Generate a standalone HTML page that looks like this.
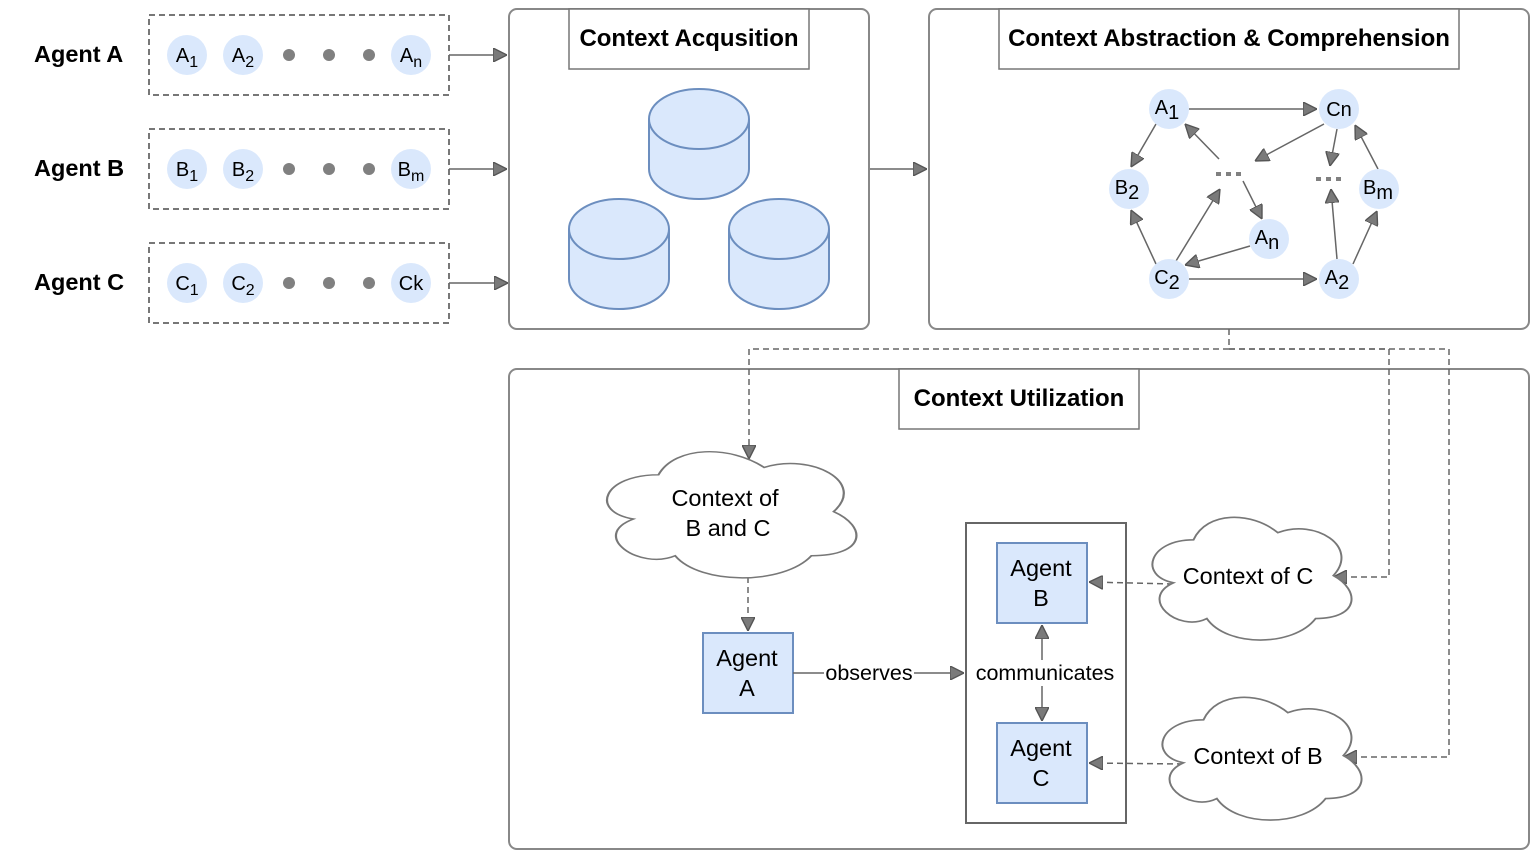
<!DOCTYPE html>
<html><head><meta charset="utf-8"><style>body{margin:0;background:#fff}svg{display:block;font-family:"Liberation Sans",Arial,sans-serif}</style></head>
<body>
<svg width="1538" height="860" viewBox="0 0 1538 860" xmlns="http://www.w3.org/2000/svg">
<defs>
<marker id="ar" viewBox="0 0 10 10" refX="10" refY="5" markerWidth="14" markerHeight="14" markerUnits="userSpaceOnUse" orient="auto"><path d="M0,0 L10,5 L0,10 Z" fill="#7a7a7a" stroke="#555" stroke-width="1"/></marker>
<path id="cloud" d="M 25,20 C 5,20 0,40 16,44 C 0,53 18,72 31,64 C 40,80 70,80 80,64 C 100,64 100,48 88,40 C 100,24 80,8 63,16 C 51,4 31,4 25,20 Z"/>
</defs>
<g font-weight="bold" font-size="23.5" fill="#000">
<text x="34" y="62">Agent A</text><text x="34" y="176">Agent B</text><text x="34" y="290">Agent C</text>
</g>
<g fill="none" stroke="#777" stroke-width="2" stroke-dasharray="6,4">
<rect x="149" y="15" width="300" height="80"/><rect x="149" y="129" width="300" height="80"/><rect x="149" y="243" width="300" height="80"/>
</g>
<g fill="#dae8fc">
<circle cx="187" cy="55" r="20"/><circle cx="243" cy="55" r="20"/><circle cx="411" cy="55" r="20"/>
<circle cx="187" cy="169" r="20"/><circle cx="243" cy="169" r="20"/><circle cx="411" cy="169" r="20"/>
<circle cx="187" cy="283" r="20"/><circle cx="243" cy="283" r="20"/><circle cx="411" cy="283" r="20"/>
</g>
<g fill="#808080">
<circle cx="289" cy="55" r="6"/><circle cx="329" cy="55" r="6"/><circle cx="369" cy="55" r="6"/>
<circle cx="289" cy="169" r="6"/><circle cx="329" cy="169" r="6"/><circle cx="369" cy="169" r="6"/>
<circle cx="289" cy="283" r="6"/><circle cx="329" cy="283" r="6"/><circle cx="369" cy="283" r="6"/>
</g>
<g font-size="20" text-anchor="middle">
<text x="187" y="62">A<tspan font-size="16" dy="5">1</tspan></text>
<text x="243" y="62">A<tspan font-size="16" dy="5">2</tspan></text>
<text x="411" y="62">A<tspan font-size="16" dy="5">n</tspan></text>
<text x="187" y="176">B<tspan font-size="16" dy="5">1</tspan></text>
<text x="243" y="176">B<tspan font-size="16" dy="5">2</tspan></text>
<text x="411" y="176">B<tspan font-size="16" dy="5">m</tspan></text>
<text x="187" y="290">C<tspan font-size="16" dy="5">1</tspan></text>
<text x="243" y="290">C<tspan font-size="16" dy="5">2</tspan></text>
<text x="411" y="290">Ck</text>
</g>
<g stroke="#666" stroke-width="1.5" fill="none" marker-end="url(#ar)">
<line x1="449" y1="55" x2="507" y2="55"/><line x1="449" y1="169" x2="507" y2="169"/><line x1="449" y1="283" x2="508" y2="283"/>
<line x1="869" y1="169" x2="927" y2="169"/>
</g>
<g fill="none" stroke="#888" stroke-width="2">
<rect x="509" y="9" width="360" height="320" rx="8"/>
<rect x="929" y="9" width="600" height="320" rx="8"/>
<rect x="509" y="369" width="1020" height="480" rx="8"/>
</g>
<g fill="#fff" stroke="#777" stroke-width="1.5">
<rect x="569" y="9" width="240" height="60"/><rect x="999" y="9" width="460" height="60"/><rect x="899" y="369" width="240" height="60"/>
</g>
<g font-weight="bold" font-size="24" text-anchor="middle">
<text x="689" y="46">Context Acqusition</text>
<text x="1229" y="46">Context Abstraction &amp; Comprehension</text>
<text x="1019" y="406">Context Utilization</text>
</g>
<g fill="#dae8fc" stroke="#6c8ebf" stroke-width="2">
<path d="M649,119 v50 a50,30 0 0 0 100,0 v-50"/><ellipse cx="699" cy="119" rx="50" ry="30"/>
<path d="M569,229 v50 a50,30 0 0 0 100,0 v-50"/><ellipse cx="619" cy="229" rx="50" ry="30"/>
<path d="M729,229 v50 a50,30 0 0 0 100,0 v-50"/><ellipse cx="779" cy="229" rx="50" ry="30"/>
</g>
<g stroke="#666" stroke-width="1.5" fill="none" marker-end="url(#ar)">
<line x1="1189" y1="109" x2="1317" y2="109"/>
<line x1="1189" y1="279" x2="1317" y2="279"/>
<line x1="1156" y1="124" x2="1131" y2="167"/>
<line x1="1156" y1="264" x2="1131" y2="210"/>
<line x1="1219" y1="159" x2="1185" y2="124"/>
<line x1="1176" y1="261" x2="1220" y2="189"/>
<line x1="1243" y1="181" x2="1262" y2="219"/>
<line x1="1250" y1="246" x2="1185" y2="265"/>
<line x1="1324" y1="124" x2="1255" y2="161"/>
<line x1="1337" y1="129" x2="1330" y2="166"/>
<line x1="1337" y1="259" x2="1331" y2="189"/>
<line x1="1378" y1="169" x2="1355" y2="125"/>
<line x1="1353" y1="264" x2="1377" y2="211"/>
</g>
<g fill="#dae8fc">
<circle cx="1169" cy="109" r="20"/><circle cx="1339" cy="109" r="20"/><circle cx="1129" cy="189" r="20"/><circle cx="1379" cy="189" r="20"/>
<circle cx="1269" cy="239" r="20"/><circle cx="1169" cy="279" r="20"/><circle cx="1339" cy="279" r="20"/>
</g>
<g fill="#808080"><rect x="1216" y="172" width="5" height="4"/><rect x="1226" y="172" width="5" height="4"/><rect x="1236" y="172" width="5" height="4"/>
<rect x="1316" y="177" width="5" height="4"/><rect x="1326" y="177" width="5" height="4"/><rect x="1336" y="177" width="5" height="4"/></g>
<g font-size="20" text-anchor="middle">
<text x="1167" y="114">A<tspan dy="5">1</tspan></text>
<text x="1339" y="116">Cn</text>
<text x="1127" y="194">B<tspan dy="5">2</tspan></text>
<text x="1378" y="194">B<tspan dy="5">m</tspan></text>
<text x="1267" y="244">A<tspan dy="5">n</tspan></text>
<text x="1167" y="284">C<tspan dy="5">2</tspan></text>
<text x="1337" y="284">A<tspan dy="5">2</tspan></text>
</g>
<g fill="none" stroke="#666" stroke-width="1.5" stroke-dasharray="6,4">
<polyline points="1229,329 1229,349 749,349 749,459" marker-end="url(#ar)"/>
<polyline points="1229,349 1389,349 1389,577 1333,577" marker-end="url(#ar)"/>
<polyline points="1229,349 1449,349 1449,757 1343,757" marker-end="url(#ar)"/>
<line x1="748" y1="577" x2="748" y2="631" marker-end="url(#ar)"/>
<line x1="1173" y1="584" x2="1089" y2="582" marker-end="url(#ar)"/>
<line x1="1183" y1="764" x2="1089" y2="763" marker-end="url(#ar)"/>
</g>
<g fill="#fff" stroke="#777" stroke-width="2">
<use href="#cloud" transform="translate(589,438) scale(2.78,1.84)" style="stroke-width:0.8"/>
<use href="#cloud" transform="translate(1138,504) scale(2.22,1.79)" style="stroke-width:0.9"/>
<use href="#cloud" transform="translate(1148,684) scale(2.22,1.79)" style="stroke-width:0.9"/>
</g>
<rect x="966" y="523" width="160" height="300" fill="none" stroke="#666" stroke-width="2"/>
<g fill="#dae8fc" stroke="#6c8ebf" stroke-width="2">
<rect x="703" y="633" width="90" height="80"/><rect x="997" y="543" width="90" height="80"/><rect x="997" y="723" width="90" height="80"/>
</g>
<g stroke="#666" stroke-width="1.5" fill="none" marker-end="url(#ar)">
<line x1="793" y1="673" x2="964" y2="673"/>
<line x1="1042" y1="660" x2="1042" y2="625"/>
<line x1="1042" y1="686" x2="1042" y2="721"/>
</g>
<rect x="824" y="660" width="90" height="26" fill="#fff"/>
<rect x="972" y="660" width="142" height="26" fill="#fff"/>
<g font-size="23.5" text-anchor="middle">
<text x="725" y="506">Context of</text><text x="728" y="536">B and C</text>
<text x="1248" y="584">Context of C</text>
<text x="1258" y="764">Context of B</text>
<text x="747" y="666">Agent</text><text x="747" y="696">A</text>
<text x="1041" y="576">Agent</text><text x="1041" y="606">B</text>
<text x="1041" y="756">Agent</text><text x="1041" y="786">C</text>
<text x="869" y="680" font-size="21.5">observes</text>
<text x="1045" y="680" font-size="21.5">communicates</text>
</g>
</svg>
</body></html>
